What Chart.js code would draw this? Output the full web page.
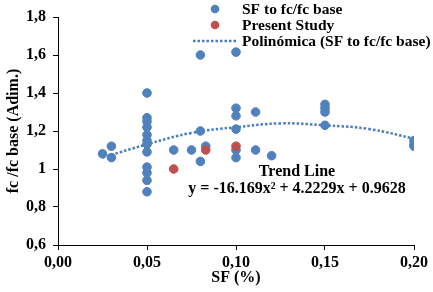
<!DOCTYPE html>
<html>
<head>
<meta charset="utf-8">
<script src="https://cdn.jsdelivr.net/npm/chart.js@4/dist/chart.umd.min.js"></script>
<style>
  body { margin: 0; background: #fff; }
  #wrap { width: 433px; height: 292px; }
</style>
</head>
<body>
<div id="wrap"><canvas id="chart" width="433" height="292"></canvas></div>
<script>
// ---------------- DATA ----------------
const sfX = [0.025, 0.03, 0.03,
    0.05, 0.05, 0.05, 0.05, 0.05, 0.05, 0.05, 0.05, 0.05, 0.05, 0.05, 0.05,
    0.065, 0.075, 0.08, 0.08, 0.08, 0.083,
    0.1, 0.1, 0.1, 0.1, 0.1, 0.1,
    0.111, 0.111, 0.12,
    0.15, 0.15, 0.15, 0.15,
    0.2, 0.2, 0.2];
const sfY = [1.08, 1.12, 1.06,
    1.40, 1.27, 1.25, 1.22, 1.18, 1.15, 1.13, 1.09, 1.01, 0.98, 0.94, 0.88,
    1.10, 1.10, 1.60, 1.20, 1.04, 1.12,
    1.615, 1.32, 1.28, 1.21, 1.10, 1.06,
    1.30, 1.10, 1.07,
    1.34, 1.32, 1.30, 1.23,
    1.15, 1.13, 1.12];

const studyX = [0.065, 0.083, 0.1];
const studyY = [1.00, 1.10, 1.12];

// trend line
const trendX = [0.025, 0.05, 0.075, 0.1, 0.125, 0.15, 0.175, 0.2];
const trendY = [1.06, 1.13, 1.19, 1.22, 1.24, 1.23, 1.21, 1.16];

const xTicks = [0, 0.05, 0.1, 0.15, 0.2];
const yTicks = [0.6, 0.8, 1.0, 1.2, 1.4, 1.6, 1.8];

const legendLabels = ["SF to fc/fc base", "Present Study", "Polinómica (SF to fc/fc base)"];
const trendLabel = ["Trend Line", "y = -16.169x² + 4.2229x + 0.9628"];

const BLUE = "#4f81bd";
const RED = "#c0504d";
const FONT = '"Liberation Serif", "Times New Roman", serif';

const pts = (xs, ys) => xs.map((x, i) => ({ x: x, y: ys[i] }));

// ---------------- LEGEND / TEXT ----------------
const overlay = {
    id: "overlay",
    afterDraw(chart) {
        const ctx = chart.ctx;
        ctx.save();
        ctx.textBaseline = "middle";
        ctx.textAlign = "left";

        ctx.fillStyle = BLUE;
        ctx.beginPath(); ctx.arc(215, 9, 4.3, 0, Math.PI * 2); ctx.fill();
        ctx.fillStyle = RED;
        ctx.beginPath(); ctx.arc(215, 25, 4.3, 0, Math.PI * 2); ctx.fill();
        ctx.strokeStyle = "#4a7ebb";
        ctx.lineWidth = 2.5;
        ctx.setLineDash([2.5, 2]);
        ctx.beginPath(); ctx.moveTo(193, 41); ctx.lineTo(236, 41); ctx.stroke();
        ctx.setLineDash([]);

        ctx.fillStyle = "#000";
        ctx.font = "bold 15.5px " + FONT;
        ctx.fillText(legendLabels[0], 242, 10);
        ctx.fillText(legendLabels[1], 242, 26);
        ctx.fillText(legendLabels[2], 242, 42);

        ctx.font = "bold 16px " + FONT;
        ctx.textAlign = "center";
        ctx.fillText(trendLabel[0], 297, 172);
        ctx.fillText(trendLabel[1], 297, 189);
        ctx.restore();
    }
};

// ---------------- CHART ----------------
new Chart(document.getElementById("chart"), {
    type: "scatter",
    data: {
        datasets: [
            {
                label: legendLabels[1],
                data: pts(studyX, studyY),
                backgroundColor: RED,
                borderColor: RED,
                pointRadius: 4.3,
                order: 1
            },
            {
                label: legendLabels[0],
                data: pts(sfX, sfY),
                backgroundColor: BLUE,
                borderColor: BLUE,
                pointRadius: 4.3,
                order: 2
            },
            {
                label: legendLabels[2],
                data: pts(trendX, trendY),
                showLine: true,
                borderColor: "#4a7ebb",
                borderWidth: 2.5,
                borderDash: [2.5, 2],
                pointRadius: 0,
                tension: 0.4,
                fill: false,
                order: 3
            }
        ]
    },
    options: {
        responsive: false,
        animation: false,
        layout: { padding: { left: 0, top: 17, right: 19, bottom: 0 } },
        plugins: {
            legend: { display: false },
            tooltip: { enabled: false }
        },
        scales: {
            x: {
                type: "linear",
                min: 0,
                max: 0.2,
                afterFit: s => { s.height = 47; },
                afterBuildTicks: s => { s.ticks = xTicks.map(v => ({ value: v })); },
                ticks: {
                    color: "#000",
                    padding: 3,
                    font: { family: FONT, size: 16, weight: "bold" },
                    callback: v => v.toFixed(2).replace(".", ",")
                },
                grid: { drawOnChartArea: false, drawTicks: true, tickLength: 5, color: "#000" },
                border: { display: true, color: "#000" },
                title: {
                    display: true,
                    text: "SF (%)",
                    color: "#000",
                    padding: { top: 0, bottom: 5 },
                    font: { family: FONT, size: 16, weight: "bold" }
                }
            },
            y: {
                min: 0.6,
                max: 1.8,
                afterFit: s => { s.width = 58; },
                afterBuildTicks: s => { s.ticks = yTicks.map(v => ({ value: v })); },
                ticks: {
                    color: "#000",
                    padding: 7,
                    font: { family: FONT, size: 16, weight: "bold" },
                    callback: v => (Math.round(v * 10) / 10).toString().replace(".", ",")
                },
                grid: { drawOnChartArea: false, drawTicks: true, tickLength: 5, color: "#000" },
                border: { display: true, color: "#000" },
                title: {
                    display: true,
                    text: "fc /fc base (Adim.)",
                    color: "#000",
                    padding: { top: 4, bottom: 0 },
                    font: { family: FONT, size: 16, weight: "bold" }
                }
            }
        }
    },
    plugins: [overlay]
});
</script>
</body>
</html>
